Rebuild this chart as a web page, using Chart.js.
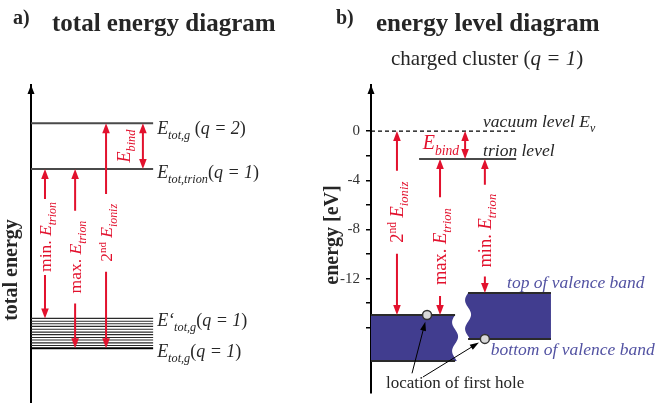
<!DOCTYPE html>
<html>
<head>
<meta charset="utf-8">
<script src="https://cdn.jsdelivr.net/npm/chart.js@4.4.1/dist/chart.umd.min.js"></script>
<style>
  body { margin: 0; background: #fff; }
  #wrap { position: relative; width: 666px; height: 403px; }
  canvas { position: absolute; top: 0; }
  #chartA { left: 0; }
  #chartB { left: 300px; }
</style>
</head>
<body>
<div id="wrap">
  <canvas id="chartA" width="300" height="403"></canvas>
  <canvas id="chartB" width="366" height="403"></canvas>
</div>
<script>
// ---- panel a: total energy diagram (arbitrary energy units 0..100) ----
const aLevelValues = [88, 73.6];   // E_tot,g(q=2), E_tot,trion(q=1)
const aBandValues = [26.6, 25.7, 24.9, 24.1, 23.2, 22.3, 21.5, 20.6, 19.8, 18.9, 18.1, 17.2]; // E'_tot,g .. E_tot,g (q=1)
const aLevelEnd = 45.4;
const aArrowX = [5.2, 16.4, 27.9];            // min. E_trion, max. E_trion, 2nd E_ioniz
const aArrowFrom = [73.6, 73.6, 88];
const aArrowTo = [26.6, 17.2, 17.2];
const aArrowMid = [52.2, 45.9, 53.5];
const aBindX = 41.6;

// ---- panel b: energy level diagram (eV) ----
const bTickValues = [0, -2, -4, -6, -8, -10, -12, -14, -16];
const bTickLabels = ['0', '', '-4', '', '-8', '', '-12', '', ''];
const bVacuum = 0;
const bTrion = -2.27;
const bVacuumX = [0, 49.2];
const bTrionX = [16.3, 49.2];
const bBandTop = [-14.96, -13.17];     // cluster band, bulk-like band
const bBandBottom = [-18.7, -16.9];
const bBandX0 = [0, 32.9];
const bBandX1 = [28.5, 61];
const bHoleX = [19, 38.6];
const bHoleY = [-14.96, -16.9];
const bPointerX = [13.9, 17.6];
const bPointerY = [-19.7, -20.0];
const bArrowX = [8.8, 23.4, 38.6];            // 2nd E_ioniz, max. E_trion, min. E_trion
const bArrowFrom = [0, -2.27, -2.27];
const bArrowTo = [-14.96, -14.96, -13.17];
const bArrowMid = [-6.6, -9.4, -8.1];
const bBindX = 31.9;

const INK = '#262626';
const RED = '#e2112d';
const BAND = '#413d8f';
const BAND_TEXT = '#5252a2';
const FONT = '"Liberation Serif", "Times New Roman", serif';

Chart.defaults.font.family = FONT;

function setFont(ctx, style, size) {
    ctx.font = style + ' ' + size + 'px ' + FONT;
}

function segFont(kind, size) {
    if (kind === 'i') return ['italic', size, 0];
    if (kind === 'sub') return ['italic', size * 0.68, size * 0.28];
    if (kind === 'sup') return ['normal', size * 0.62, -size * 0.36];
    if (kind === 'b') return ['bold', size, 0];
    return ['normal', size, 0];
}

function richWidth(ctx, segs, size) {
    let w = 0;
    for (const [t, k] of segs) {
        const [st, fs] = segFont(k, size);
        setFont(ctx, st, fs);
        w += ctx.measureText(t).width;
    }
    return w;
}

function drawRich(ctx, segs, x, y, size, color) {
    ctx.fillStyle = color;
    ctx.textAlign = 'left';
    ctx.textBaseline = 'alphabetic';
    let cx = x;
    for (const [t, k] of segs) {
        const [st, fs, dy] = segFont(k, size);
        setFont(ctx, st, fs);
        ctx.fillText(t, cx, y + dy);
        cx += ctx.measureText(t).width;
    }
    return cx - x;
}

function drawRotated(ctx, segs, cx, cy, size, color, base) {
    const w = richWidth(ctx, segs, size);
    ctx.save();
    ctx.translate(cx, cy);
    ctx.rotate(-Math.PI / 2);
    drawRich(ctx, segs, -w / 2, base, size, color);
    ctx.restore();
    return w;
}

function headDir(ctx, tx, ty, ux, uy, len, half, color) {
    const bx = tx - ux * len, by = ty - uy * len;
    ctx.fillStyle = color;
    ctx.beginPath();
    ctx.moveTo(tx, ty);
    ctx.lineTo(bx - uy * half, by + ux * half);
    ctx.lineTo(bx + uy * half, by - ux * half);
    ctx.closePath();
    ctx.fill();
}

// vertical red arrow with heads at both ends, split around a rotated label
function splitArrow(ctx, x, yTop, yBot, segs, mid, size, pad) {
    const w = drawRotated(ctx, segs, x, mid, size, RED, size * 0.33);
    const g0 = mid - w / 2 - pad, g1 = mid + w / 2 + pad;
    ctx.strokeStyle = RED;
    ctx.lineWidth = 2;
    ctx.beginPath();
    ctx.moveTo(x, yTop + 6);
    ctx.lineTo(x, g0);
    ctx.moveTo(x, g1);
    ctx.lineTo(x, yBot - 6);
    ctx.stroke();
    headDir(ctx, x, yTop, 0, -1, 10, 3.8, RED);
    headDir(ctx, x, yBot, 0, 1, 10, 3.8, RED);
}

function doubleArrow(ctx, x, yTop, yBot) {
    ctx.strokeStyle = RED;
    ctx.lineWidth = 2;
    ctx.beginPath();
    ctx.moveTo(x, yTop + 6);
    ctx.lineTo(x, yBot - 6);
    ctx.stroke();
    headDir(ctx, x, yTop, 0, -1, 10, 3.8, RED);
    headDir(ctx, x, yBot, 0, 1, 10, 3.8, RED);
}

function axisArrow(ctx, area) {
    headDir(ctx, area.left, area.top, 0, -1, 9, 3.5, '#000');
}

function levelSet(x0, x1, y, color, width, dash) {
    return {
        data: [{ x: x0, y: y }, { x: x1, y: y }],
        showLine: true,
        borderColor: color,
        backgroundColor: color,
        borderWidth: width,
        borderDash: dash || [],
        pointRadius: 0,
        order: 1,
    };
}

const E = (sub) => [['E', 'i'], [sub, 'sub']];

const panelA = {
    id: 'panelA',
    afterDraw(chart) {
        const { ctx, chartArea, scales: { x, y } } = chart;
        axisArrow(ctx, chartArea);

        setFont(ctx, 'bold', 20);
        ctx.fillStyle = INK;
        ctx.textAlign = 'left';
        ctx.fillText('a)', 13, 24);
        setFont(ctx, 'bold', 25);
        ctx.fillText('total energy diagram', 52, 31);

        drawRotated(ctx, [['total energy', 'b']], 16.5, 270, 20, INK, 0);

        const lx = x.getPixelForValue(aLevelEnd) + 4;
        const lastBand = aBandValues[aBandValues.length - 1];
        drawRich(ctx, [...E('tot,g'), [' (', 'r'], ['q = 2', 'i'], [')', 'r']], lx, y.getPixelForValue(aLevelValues[0]) + 11, 18, INK);
        drawRich(ctx, [...E('tot,trion'), ['(', 'r'], ['q = 1', 'i'], [')', 'r']], lx, y.getPixelForValue(aLevelValues[1]) + 9, 18, INK);
        drawRich(ctx, [['E\u2018', 'i'], ['tot,g', 'sub'], ['(', 'r'], ['q = 1', 'i'], [')', 'r']], lx, y.getPixelForValue(aBandValues[0]) + 8, 18, INK);
        drawRich(ctx, [...E('tot,g'), ['(', 'r'], ['q = 1', 'i'], [')', 'r']], lx, y.getPixelForValue(lastBand) + 9, 18, INK);

        const labels = [
            [['min. ', 'r'], ...E('trion')],
            [['max. ', 'r'], ...E('trion')],
            [['2', 'r'], ['nd', 'sup'], [' ', 'r'], ...E('ioniz')],
        ];
        const pads = [3, 10, 10];
        aArrowX.forEach((v, i) => {
            splitArrow(ctx, x.getPixelForValue(v), y.getPixelForValue(aArrowFrom[i]), y.getPixelForValue(aArrowTo[i]),
                labels[i], y.getPixelForValue(aArrowMid[i]), 17.5, pads[i]);
        });

        const bx = x.getPixelForValue(aBindX);
        const b0 = y.getPixelForValue(aLevelValues[0]), b1 = y.getPixelForValue(aLevelValues[1]);
        doubleArrow(ctx, bx, b0, b1);
        drawRotated(ctx, E('bind'), bx - 19, (b0 + b1) / 2, 18, RED, 18 * 0.33);
    }
};

function wavyX(edge, amp, cycles, t) {
    return edge + amp * Math.sin(2 * Math.PI * cycles * t);
}

const panelB = {
    id: 'panelB',
    beforeDatasetsDraw(chart) {
        const { ctx, scales: { x, y } } = chart;
        ctx.save();
        ctx.fillStyle = BAND;
        // cluster band, wavy right edge
        {
            const l = x.getPixelForValue(bBandX0[0]), r = x.getPixelForValue(bBandX1[0]);
            const t = y.getPixelForValue(bBandTop[0]), b = y.getPixelForValue(bBandBottom[0]);
            ctx.beginPath();
            ctx.moveTo(l, t);
            ctx.lineTo(r, t);
            for (let k = 0; k <= 40; k++) {
                const f = k / 40;
                ctx.lineTo(wavyX(r, -3, 1.6, f), t + (b - t) * f);
            }
            ctx.lineTo(l, b);
            ctx.closePath();
            ctx.fill();
        }
        // bulk-like band, wavy left edge
        {
            const l = x.getPixelForValue(bBandX0[1]), r = x.getPixelForValue(bBandX1[1]);
            const t = y.getPixelForValue(bBandTop[1]), b = y.getPixelForValue(bBandBottom[1]);
            ctx.beginPath();
            ctx.moveTo(r, t);
            ctx.lineTo(r, b);
            ctx.lineTo(l, b);
            for (let k = 40; k >= 0; k--) {
                const f = k / 40;
                ctx.lineTo(wavyX(l, -3, 1.6, f), t + (b - t) * f);
            }
            ctx.closePath();
            ctx.fill();
        }
        ctx.restore();
    },
    afterDraw(chart) {
        const { ctx, chartArea, scales: { x, y } } = chart;
        const ox = 300;
        axisArrow(ctx, chartArea);

        ctx.fillStyle = INK;
        ctx.textAlign = 'left';
        setFont(ctx, 'bold', 20);
        ctx.fillText('b)', 336 - ox, 24);
        setFont(ctx, 'bold', 25);
        ctx.fillText('energy level diagram', 376 - ox, 31);
        drawRich(ctx, [['charged cluster (', 'r'], ['q = 1', 'i'], [')', 'r']], 391 - ox, 65, 21, INK);

        drawRotated(ctx, [['energy [eV]', 'b']], 338 - ox, 235, 20, INK, 0);

        const py0 = y.getPixelForValue(bVacuum), pyT = y.getPixelForValue(bTrion);
        drawRich(ctx, [['vacuum level ', 'i'], ...E('v')], x.getPixelForValue(38), py0 - 4, 17.5, INK);
        drawRich(ctx, [['trion level', 'i']], x.getPixelForValue(38), pyT - 3, 17.5, INK);

        // binding energy
        const bx = x.getPixelForValue(bBindX);
        doubleArrow(ctx, bx, py0, pyT);
        const wb = richWidth(ctx, E('bind'), 20);
        drawRich(ctx, E('bind'), bx - 6 - wb, (py0 + pyT) / 2 + 4, 20, RED);

        const labels = [
            [['2', 'r'], ['nd', 'sup'], [' ', 'r'], ...E('ioniz')],
            [['max. ', 'r'], ...E('trion')],
            [['min. ', 'r'], ...E('trion')],
        ];
        const pads = [11, 11, 9];
        bArrowX.forEach((v, i) => {
            splitArrow(ctx, x.getPixelForValue(v), y.getPixelForValue(bArrowFrom[i]), y.getPixelForValue(bArrowTo[i]),
                labels[i], y.getPixelForValue(bArrowMid[i]), 18.5, pads[i]);
        });

        // band labels
        drawRich(ctx, [['top of valence band', 'i']], x.getPixelForValue(bBandX0[1]) + 39, y.getPixelForValue(bBandTop[1]) - 5, 17.5, BAND_TEXT);
        drawRich(ctx, [['bottom of valence band', 'i']], x.getPixelForValue(bHoleX[1]) + 6, y.getPixelForValue(bBandBottom[1]) + 16, 17.5, BAND_TEXT);
        drawRich(ctx, [['location of first hole', 'r']], x.getPixelForValue(0) + 15, y.getPixelForValue(bBandBottom[0]) + 27, 17, INK);

        // pointers to the holes
        ctx.strokeStyle = '#000';
        ctx.lineWidth = 1;
        bHoleX.forEach((hx, i) => {
            const sx = x.getPixelForValue(bPointerX[i]), sy = y.getPixelForValue(bPointerY[i]);
            const hpx = x.getPixelForValue(hx), hpy = y.getPixelForValue(bHoleY[i]);
            const dx = hpx - sx, dy = hpy - sy, len = Math.hypot(dx, dy);
            const ux = dx / len, uy = dy / len;
            const tx = hpx - ux * 7, ty = hpy - uy * 7;
            ctx.beginPath();
            ctx.moveTo(sx, sy);
            ctx.lineTo(tx - ux * 6, ty - uy * 6);
            ctx.stroke();
            headDir(ctx, tx, ty, ux, uy, 9, 3, '#000');
        });
    }
};

const hiddenTip = { legend: { display: false }, tooltip: { enabled: false } };

new Chart(document.getElementById('chartA'), {
    type: 'scatter',
    data: {
        datasets: [
            ...aLevelValues.map(v => levelSet(0, aLevelEnd, v, '#4a4a4a', 2)),
            ...aBandValues.map((v, i) => i === aBandValues.length - 1
                ? levelSet(0, aLevelEnd, v, '#000', 2)
                : levelSet(0, aLevelEnd, v, '#2a2a2a', 1.1)),
        ]
    },
    options: {
        responsive: false,
        animation: false,
        events: [],
        layout: { autoPadding: false, padding: { top: 85, left: 0, right: 0, bottom: 0 } },
        plugins: hiddenTip,
        scales: {
            x: { type: 'linear', min: 0, max: 100, display: false },
            y: {
                type: 'linear', min: 0, max: 100,
                ticks: { display: false },
                grid: { display: false },
                border: { display: true, color: '#000', width: 2 },
                afterFit: s => { s.width = 31; s.paddingTop = 0; s.paddingBottom = 0; },
            }
        }
    },
    plugins: [panelA]
});

new Chart(document.getElementById('chartB'), {
    type: 'scatter',
    data: {
        datasets: [
            levelSet(bVacuumX[0], bVacuumX[1], bVacuum, '#000', 1.3, [4, 3]),
            levelSet(bTrionX[0], bTrionX[1], bTrion, '#4a4a4a', 2),
            ...bBandTop.map((v, i) => levelSet(bBandX0[i], bBandX1[i], v, '#2a2a2a', 2)),
            ...bBandBottom.map((v, i) => levelSet(bBandX0[i], bBandX1[i], v, '#2a2a2a', 2)),
            {
                data: bHoleX.map((v, i) => ({ x: v, y: bHoleY[i] })),
                pointRadius: 4.5,
                pointBackgroundColor: '#d9d9d9',
                pointBorderColor: '#333',
                pointBorderWidth: 1.5,
                order: 0,
            }
        ]
    },
    options: {
        responsive: false,
        animation: false,
        events: [],
        layout: { autoPadding: false, padding: { top: 85, left: 0, right: 0, bottom: 10 } },
        plugins: hiddenTip,
        scales: {
            x: { type: 'linear', min: 0, max: 100, display: false },
            y: {
                type: 'linear', min: -21.3, max: 3.75,
                afterBuildTicks: s => { s.ticks = bTickValues.map(v => ({ value: v })); },
                afterFit: s => { s.width = 71; s.paddingTop = 0; s.paddingBottom = 0; },
                ticks: {
                    autoSkip: false,
                    padding: 6,
                    color: '#333',
                    font: { family: FONT, size: 15 },
                    callback: v => bTickLabels[bTickValues.indexOf(v)],
                },
                grid: { drawOnChartArea: false, color: '#000', tickLength: 5, lineWidth: 1.5 },
                border: { display: true, color: '#000', width: 2 },
            }
        }
    },
    plugins: [panelB]
});
</script>
</body>
</html>
